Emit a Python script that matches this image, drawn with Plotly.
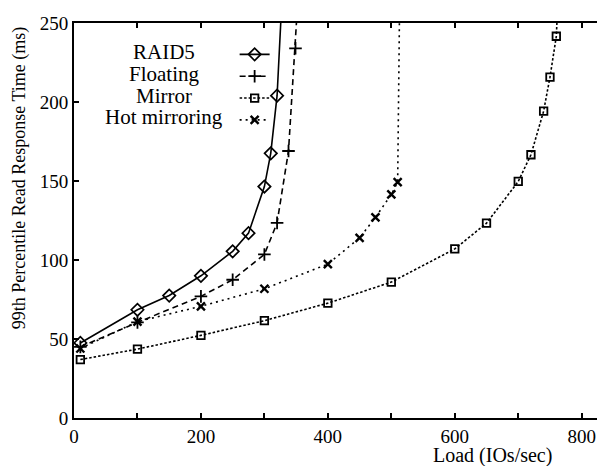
import plotly.graph_objects as go

# ---- data ----
series_names = ["RAID5", "Floating", "Mirror", "Hot mirroring"]

raid5_x = [10, 100, 150, 200, 250, 275, 300, 310, 320, 327]
raid5_y = [47.5, 68.5, 77.5, 90, 105.5, 117, 146.5, 167.5, 204, 260]

floating_x = [10, 100, 200, 250, 300, 320, 338, 349, 352]
floating_y = [45, 60.5, 77, 87.5, 103.5, 123.5, 169, 234, 260]

mirror_x = [10, 100, 200, 300, 400, 500, 600, 650, 700, 720, 740, 750, 760, 762]
mirror_y = [37, 43.6, 52.3, 61.6, 72.7, 86, 107, 123.3, 149.7, 166.6, 194.2, 215.7, 241.6, 260]

hot_x = [10, 100, 200, 300, 400, 450, 475, 500, 510, 513]
hot_y = [44, 61, 70.7, 81.8, 97.4, 114, 127, 141.5, 149.3, 260]

x_ticks = [0, 100, 200, 300, 400, 500, 600, 700, 800]
x_ticktext = ["0", "", "200", "", "400", "", "600", "", "800"]
y_ticks = [0, 50, 100, 150, 200, 250]

x_title = "Load (IOs/sec)"
y_title = "99th Percentile Read Response Time (ms)"

FONT = "Liberation Serif, Times New Roman, serif"

styles = [
    dict(dash="solid", symbol="diamond-open", size=9.5, mlw=1.7),
    dict(dash="6px,4px", symbol="cross-thin", size=9, mlw=1.8),
    dict(dash="2.5px,2px", symbol="square-open", size=7.5, mlw=1.8),
    dict(dash="2px,4px", symbol="x-thin", size=8, mlw=2.4),
]
data = [(raid5_x, raid5_y), (floating_x, floating_y), (mirror_x, mirror_y), (hot_x, hot_y)]

fig = go.Figure()
for name, (xs, ys), st in zip(series_names, data, styles):
    fig.add_trace(go.Scatter(
        x=xs, y=ys, name=name, mode="lines+markers",
        line=dict(color="black", width=1.6, dash=st["dash"]),
        marker=dict(symbol=st["symbol"], size=st["size"], color="black",
                    line=dict(color="black", width=st["mlw"])),
    ))

# legend labels (text left of symbols, centred)
row_y0, row_step = 0.926, 0.0548
for i, name in enumerate(series_names):
    fig.add_annotation(text=name, xref="paper", yref="paper",
                       x=0.1695, y=row_y0 - i * row_step, xanchor="center", yanchor="middle",
                       showarrow=False, font=dict(family=FONT, size=21, color="black"))

fig.add_annotation(text=x_title, xref="paper", yref="paper", x=0.789, y=-0.096,
                   xanchor="center", yanchor="middle", showarrow=False,
                   font=dict(family=FONT, size=20, color="black"))
fig.add_annotation(text=y_title, xref="paper", yref="paper", x=-0.1036, y=0.607,
                   xanchor="center", yanchor="middle", textangle=-90, showarrow=False,
                   font=dict(family=FONT, size=18, color="black"))

# page body has an 8px margin: figure is 8px smaller and margins shifted accordingly
fig.update_layout(
    width=597, height=458,
    margin=dict(l=66, r=0, t=15, b=48),
    paper_bgcolor="white", plot_bgcolor="white",
    font=dict(family=FONT, size=19, color="black"),
    showlegend=True,
    legend=dict(x=0.3025, y=0.961, xanchor="left", yanchor="top",
                bgcolor="rgba(0,0,0,0)", font=dict(size=14.5, color="rgba(0,0,0,0)"),
                itemwidth=30, tracegroupgap=0),
    xaxis=dict(range=[0, 836.7], tickmode="array", tickvals=x_ticks, ticktext=x_ticktext,
               ticks="inside", ticklen=5, tickwidth=1.5, tickcolor="black",
               showline=True, linecolor="black", linewidth=2, mirror="ticks",
               showgrid=False, zeroline=False, tickfont=dict(family=FONT, size=19)),
    yaxis=dict(range=[0, 250], tickmode="array", tickvals=y_ticks,
               ticks="inside", ticklen=5, tickwidth=1.5, tickcolor="black",
               showline=True, linecolor="black", linewidth=2,
               showgrid=False, zeroline=False, tickfont=dict(family=FONT, size=19)),
)

fig.write_html("out.html")
